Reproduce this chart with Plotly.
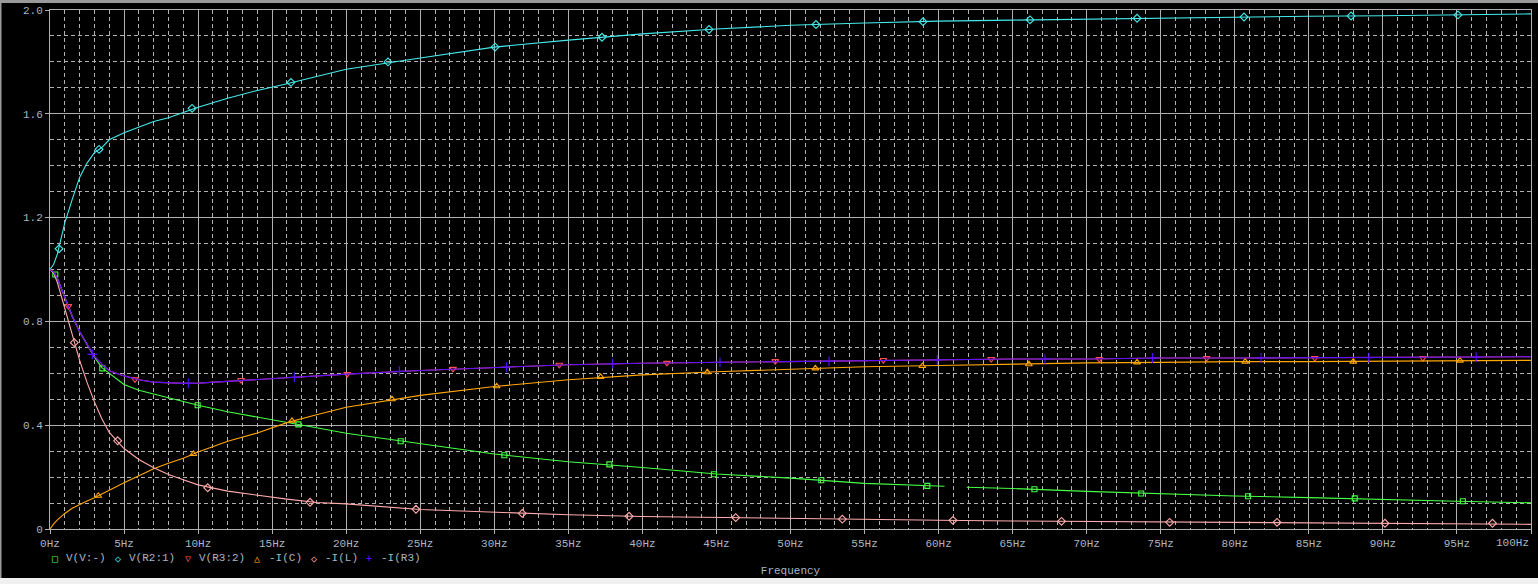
import plotly.graph_objects as go

# ---------------- data ----------------
freq = [0, 0.25, 0.5, 0.75, 1, 1.5, 2, 2.5, 3, 3.5, 4, 5, 6, 7, 8, 9, 10, 12, 14, 16,
        18, 20, 25, 30, 35, 40, 45, 50, 55, 60, 65, 70, 75, 80, 85, 90, 95, 100]

v_r2_1 = [1.0, 1.02, 1.06, 1.12, 1.18, 1.27, 1.355, 1.41, 1.45, 1.47, 1.50, 1.527, 1.548,
          1.57, 1.585, 1.605, 1.625, 1.66, 1.69, 1.716, 1.744, 1.772, 1.815, 1.857, 1.884,
          1.908, 1.927, 1.941, 1.950, 1.957, 1.961, 1.965, 1.969, 1.973, 1.976, 1.978,
          1.981, 1.985]

v_r3_2 = [1.0, 0.99, 0.965, 0.93, 0.895, 0.82, 0.76, 0.71, 0.665, 0.635, 0.61, 0.59, 0.575,
          0.566, 0.563, 0.561, 0.562, 0.569, 0.577, 0.583, 0.59, 0.597, 0.611, 0.622, 0.633,
          0.639, 0.642, 0.647, 0.65, 0.651, 0.655, 0.655, 0.659, 0.659, 0.66, 0.66, 0.662,
          0.664]

i_r3 = [1.0, 0.99, 0.965, 0.93, 0.895, 0.82, 0.76, 0.71, 0.665, 0.635, 0.61, 0.59, 0.575,
        0.566, 0.563, 0.561, 0.562, 0.569, 0.577, 0.583, 0.59, 0.597, 0.611, 0.622, 0.633,
        0.639, 0.642, 0.647, 0.65, 0.651, 0.655, 0.655, 0.659, 0.659, 0.66, 0.66, 0.662,
        0.664]

i_c = [0, 0.02, 0.035, 0.048, 0.06, 0.08, 0.095, 0.108, 0.12, 0.135, 0.15, 0.178, 0.205,
       0.232, 0.253, 0.273, 0.297, 0.338, 0.37, 0.41, 0.44, 0.469, 0.515, 0.549, 0.575,
       0.594, 0.606, 0.616, 0.625, 0.63, 0.635, 0.64, 0.642, 0.645, 0.645, 0.647, 0.649,
       0.65]

i_l = [1.0, 0.985, 0.95, 0.9, 0.85, 0.74, 0.65, 0.565, 0.49, 0.425, 0.372, 0.31, 0.268,
       0.236, 0.21, 0.19, 0.17, 0.146, 0.13, 0.115, 0.102, 0.097, 0.075, 0.064, 0.055,
       0.048, 0.044, 0.04, 0.037, 0.034, 0.031, 0.029, 0.026, 0.025, 0.024, 0.022, 0.021,
       0.018]

freq_vv = [0, 0.25, 0.5, 0.75, 1, 1.5, 2, 2.5, 3, 3.5, 4, 5, 6, 7, 8, 9, 10, 12, 14, 16,
           18, 20, 25, 30, 35, 40, 45, 50, 55, 60, 60.4, 61, 61.9, 65, 70, 75, 80, 85, 90,
           95, 100]
v_vminus = [1.0, 0.99, 0.965, 0.93, 0.895, 0.82, 0.76, 0.71, 0.662, 0.622, 0.6, 0.557,
            0.535, 0.52, 0.505, 0.49, 0.477, 0.452, 0.432, 0.412, 0.39, 0.369, 0.328, 0.289,
            0.259, 0.237, 0.212, 0.196, 0.176, 0.166, 0.165, None, 0.161, 0.156, 0.145,
            0.136, 0.127, 0.121, 0.113, 0.107, 0.101]

# marker positions along each trace
mk_vv_f = [0.36, 3.53, 9.97, 16.77, 23.68, 30.68, 37.77, 44.83, 52.08, 59.24, 66.47, 73.68,
           80.9, 88.1, 95.4]
mk_vv_v = [0.981, 0.619, 0.477, 0.403, 0.338, 0.284, 0.249, 0.211, 0.188, 0.166, 0.153,
           0.137, 0.126, 0.118, 0.107]
mk_r2_f = [0.61, 3.31, 9.59, 16.27, 22.82, 30.05, 37.27, 44.5, 51.72, 58.95, 66.17, 73.4,
           80.62, 87.85, 95.07]
mk_r2_v = [1.08, 1.463, 1.621, 1.721, 1.80, 1.857, 1.895, 1.925, 1.944, 1.955, 1.962, 1.968,
           1.973, 1.977, 1.981]
mk_r3_f = [1.24, 5.74, 12.9, 20.07, 27.21, 34.39, 41.66, 48.97, 56.27, 63.55, 70.85, 78.1,
           85.4, 92.7]
mk_r3_v = [0.859, 0.577, 0.574, 0.597, 0.617, 0.633, 0.640, 0.647, 0.651, 0.655, 0.655,
           0.659, 0.659, 0.659]
mk_ic_f = [3.26, 9.68, 16.34, 23.09, 30.16, 37.18, 44.38, 51.68, 58.9, 66.1, 73.4, 80.7,
           88.0, 95.2]
mk_ic_v = [0.128, 0.289, 0.417, 0.500, 0.550, 0.586, 0.604, 0.619, 0.628, 0.635, 0.642,
           0.645, 0.645, 0.649]
mk_il_f = [1.64, 4.57, 10.65, 17.56, 24.71, 31.89, 39.1, 46.3, 53.5, 60.97, 68.3, 75.6,
           82.85, 90.14, 97.4]
mk_il_v = [0.718, 0.340, 0.159, 0.103, 0.076, 0.060, 0.049, 0.044, 0.038, 0.0334, 0.0296,
           0.0257, 0.0257, 0.022, 0.022]
mk_ir3_f = [2.86, 9.34, 16.5, 23.59, 30.83, 37.99, 45.24, 52.6, 59.91, 67.18, 74.44, 81.78,
            89.05, 96.3]
mk_ir3_v = [0.673, 0.561, 0.585, 0.608, 0.624, 0.637, 0.642, 0.646, 0.651, 0.655, 0.659,
            0.659, 0.66, 0.662]

x_tick_step = 5
x_last_label = "100Hz"          # drawn right-aligned at the axis end, as in the reference
x_label_alias = {x_last_label: ""}
y_tick_step = 0.4
y_label_alias = {"2": "2.0"}

legend_names = ["V(V:-)", "V(R2:1)", "V(R3:2)", "-I(C)", "-I(L)", "-I(R3)"]
legend_glyphs = ["\u25a1", "\u25c7", "\u25bd", "\u25b3", "\u25c7", "+"]

# ---------------- style ----------------
C_GREEN = "#44ff44"
C_CYAN = "#44eaea"
C_RED = "#ff5050"
C_ORANGE = "#ffa500"
C_PINK = "#ffaaaa"
C_BLUE = "#5a10ff"
GRID = "#b0b0b0"
TXT = "#aab6c2"
FONT = "Liberation Mono"

W, H = 1538, 584
ML, MR, MT, MB = 50, 7, 10, 55
PW, PH = W - ML - MR, H - MT - MB


def px_x(px):
    return (px - ML) / PW


def px_y(py):
    return (H - MB - py) / PH


fig = go.Figure()

series = [
    (freq_vv, v_vminus, mk_vv_f, mk_vv_v, C_GREEN, "square-open", 5),
    (freq, v_r2_1, mk_r2_f, mk_r2_v, C_CYAN, "diamond-open", 6),
    (freq, v_r3_2, mk_r3_f, mk_r3_v, C_RED, "triangle-down-open", 6),
    (freq, i_c, mk_ic_f, mk_ic_v, C_ORANGE, "triangle-up-open", 6),
    (freq, i_l, mk_il_f, mk_il_v, C_PINK, "diamond-open", 6),
    (freq, i_r3, mk_ir3_f, mk_ir3_v, C_BLUE, "cross-thin-open", 7),
]

for (fx, fy, mx, my, col, sym, sz), name in zip(series, legend_names):
    fig.add_trace(go.Scatter(x=fx, y=fy, mode="lines", name=name,
                             line=dict(color=col, width=1.1),
                             connectgaps=False, showlegend=False, hoverinfo="skip"))
    fig.add_trace(go.Scatter(x=mx, y=my, mode="markers", name=name,
                             marker=dict(symbol=sym, size=sz, color=col,
                                         line=dict(color=col, width=1.1)),
                             showlegend=False))

axis_common = dict(
    showline=True, mirror=True, linecolor=GRID, linewidth=1,
    showgrid=True, gridcolor=GRID, gridwidth=1,
    zeroline=False, ticks="outside", ticklen=4, tickcolor=GRID, tickwidth=1,
    tickfont=dict(family=FONT, size=11, color=TXT),
    automargin=False,
)

fig.update_xaxes(range=[0, 100], tickmode="linear", tick0=0, dtick=x_tick_step,
                 ticksuffix="Hz", labelalias=x_label_alias,
                 minor=dict(tickmode="linear", tick0=0, dtick=1, showgrid=True,
                            gridcolor=GRID, griddash="4px,3px", gridwidth=1, ticks=""),
                 title=dict(text="Frequency", font=dict(family=FONT, size=11, color=TXT),
                            standoff=17),
                 **axis_common)
fig.update_yaxes(range=[0, 2], tickmode="linear", tick0=0, dtick=y_tick_step,
                 labelalias=y_label_alias,
                 minor=dict(tickmode="linear", tick0=0, dtick=0.1, showgrid=True,
                            gridcolor=GRID, griddash="4px,3px", gridwidth=1, ticks=""),
                 **axis_common)

annotations = [
    dict(x=1, y=px_y(543), xref="paper", yref="paper", text=x_last_label,
         showarrow=False, xanchor="right", yanchor="middle",
         font=dict(family=FONT, size=11, color=TXT)),
]

# legend drawn as text row below the axis
legend_cols = [C_GREEN, C_CYAN, C_RED, C_ORANGE, C_PINK, C_BLUE]
legend_sym_px = [54.5, 117.5, 187.5, 257, 313.5, 369]
for name, glyph, col, sx in zip(legend_names, legend_glyphs, legend_cols, legend_sym_px):
    annotations.append(dict(x=px_x(sx), y=px_y(558), xref="paper", yref="paper",
                            text=glyph, showarrow=False, xanchor="center", yanchor="middle",
                            font=dict(family="DejaVu Sans Mono", size=10, color=col)))
    annotations.append(dict(x=px_x(sx + 9.5), y=px_y(558), xref="paper", yref="paper",
                            text=name, showarrow=False, xanchor="left", yanchor="middle",
                            font=dict(family=FONT, size=11, color=TXT)))

shapes = [
    dict(type="rect", xref="paper", yref="paper", x0=px_x(0), x1=px_x(W),
         y0=px_y(0), y1=px_y(3), fillcolor="#9a9a9a", line=dict(width=0), layer="above"),
    dict(type="rect", xref="paper", yref="paper", x0=px_x(0), x1=px_x(1.5),
         y0=px_y(0), y1=px_y(578), fillcolor="#9a9a9a", line=dict(width=0), layer="above"),
    dict(type="rect", xref="paper", yref="paper", x0=px_x(0), x1=px_x(W),
         y0=px_y(578), y1=px_y(H), fillcolor="#f0f0f0", line=dict(width=0), layer="above"),
]

fig.update_layout(
    width=W, height=H,
    margin=dict(l=ML, r=MR, t=MT, b=MB, pad=0, autoexpand=False),
    paper_bgcolor="black", plot_bgcolor="black",
    showlegend=False,
    annotations=annotations,
    shapes=shapes,
    font=dict(family=FONT, size=11, color=TXT),
)

fig.write_html("out.html", config={"displayModeBar": False},
               post_script="document.body.style.margin='0';document.body.style.background='black';")
